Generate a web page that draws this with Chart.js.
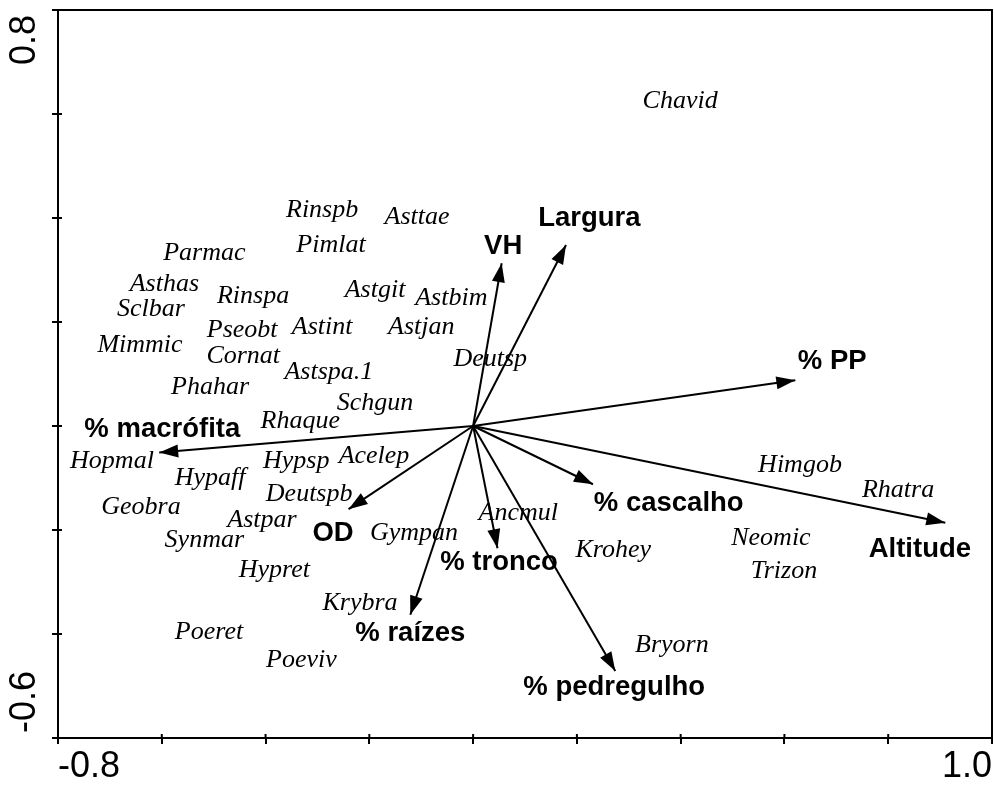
<!DOCTYPE html>
<html>
<head>
<meta charset="utf-8">
<script src="https://cdn.jsdelivr.net/npm/chart.js@4"></script>
<style>
  html, body { margin: 0; padding: 0; background: #fff; }
  #wrap { width: 994px; height: 787px; }
</style>
</head>
<body>
<div id="wrap"><canvas id="biplot"></canvas></div>
<script>
// Species scores (labels only, no markers)
const species = ['Chavid', 'Rinspb', 'Asttae', 'Parmac', 'Pimlat', 'Asthas', 'Sclbar', 'Rinspa',
  'Astgit', 'Astbim', 'Pseobt', 'Astint', 'Astjan', 'Mimmic', 'Cornat', 'Deutsp', 'Astspa.1',
  'Phahar', 'Schgun', 'Rhaque', 'Hopmal', 'Hypsp', 'Acelep', 'Hypaff', 'Deutspb', 'Geobra',
  'Himgob', 'Rhatra', 'Astpar', 'Ancmul', 'Synmar', 'Gympan', 'Neomic', 'Krohey', 'Trizon',
  'Hypret', 'Krybra', 'Poeret', 'Bryorn', 'Poeviv'];
const speciesX = [0.399, -0.291, -0.108, -0.518, -0.274, -0.595, -0.621, -0.424,
  -0.189, -0.042, -0.445, -0.291, -0.100, -0.642, -0.443, 0.033, -0.278,
  -0.507, -0.189, -0.333, -0.696, -0.341, -0.191, -0.507, -0.316, -0.640,
  0.630, 0.819, -0.407, 0.087, -0.518, -0.114, 0.574, 0.270, 0.599,
  -0.383, -0.218, -0.509, 0.383, -0.331];
const speciesY = [0.625, 0.415, 0.402, 0.333, 0.348, 0.273, 0.225, 0.250,
  0.262, 0.246, 0.185, 0.190, 0.190, 0.156, 0.135, 0.129, 0.104,
  0.075, 0.044, 0.010, -0.067, -0.067, -0.058, -0.100, -0.131, -0.156,
  -0.075, -0.123, -0.181, -0.167, -0.219, -0.206, -0.215, -0.238, -0.279,
  -0.277, -0.340, -0.396, -0.421, -0.450];

// Environmental variables (arrows from origin)
const envVars = ['VH', 'Largura', '% PP', 'Altitude', '% cascalho', '% tronco',
  '% pedregulho', '% raízes', 'OD', '% macrófita'];
const envX = [0.055, 0.179, 0.621, 0.910, 0.231, 0.047, 0.274, -0.121, -0.240, -0.605];
const envY = [0.313, 0.348, 0.088, -0.186, -0.112, -0.235, -0.471, -0.363, -0.160, -0.051];
const envLabelX = [0.058, 0.224, 0.692, 0.861, 0.377, 0.050, 0.272, -0.121, -0.270, -0.599];
const envLabelY = [0.346, 0.400, 0.125, -0.237, -0.148, -0.263, -0.503, -0.398, -0.206, -0.006];

// Axis range and the two labelled ticks
const xRange = [-0.8, 1.0];
const yRange = [-0.6, 0.8];
const xTickLabels = ['-0.8', '1.0'];
const yTickLabels = ['-0.6', '0.8'];

const datasets = [{
  label: 'species',
  data: species.map((s, i) => ({ x: speciesX[i], y: speciesY[i] })),
  pointRadius: 0,
  showLine: false
}];
envVars.forEach((v, i) => {
  datasets.push({
    label: v,
    type: 'line',
    data: [{ x: 0, y: 0 }, { x: envX[i], y: envY[i] }],
    borderColor: '#000',
    borderWidth: 2,
    pointRadius: 0,
    fill: false
  });
});

// Frame, arrowheads, text labels
const biplotPlugin = {
  id: 'biplot',
  afterDatasetsDraw(chart) {
    const { ctx, chartArea: a, scales } = chart;
    const xs = scales.x, ys = scales.y;
    ctx.save();
    // top + right edges of the frame
    ctx.strokeStyle = '#000';
    ctx.lineWidth = 2;
    ctx.beginPath();
    ctx.moveTo(a.left, a.top);
    ctx.lineTo(a.right, a.top);
    ctx.lineTo(a.right, a.bottom);
    ctx.stroke();

    // inner part of the tick marks (they cross the axis line)
    ctx.lineWidth = 2;
    ctx.beginPath();
    xs.ticks.forEach(t => {
      const px = xs.getPixelForValue(t.value);
      ctx.moveTo(px, a.bottom);
      ctx.lineTo(px, a.bottom - 4);
    });
    ys.ticks.forEach(t => {
      const py = ys.getPixelForValue(t.value);
      ctx.moveTo(a.left, py);
      ctx.lineTo(a.left + 4, py);
    });
    ctx.stroke();

    // arrowheads
    ctx.fillStyle = '#000';
    envVars.forEach((v, i) => {
      const meta = chart.getDatasetMeta(i + 1);
      const p0 = meta.data[0], p1 = meta.data[1];
      const ang = Math.atan2(p1.y - p0.y, p1.x - p0.x);
      const len = 19, hw = 6.5;
      ctx.beginPath();
      ctx.moveTo(p1.x, p1.y);
      ctx.lineTo(p1.x - len * Math.cos(ang) + hw * Math.sin(ang), p1.y - len * Math.sin(ang) - hw * Math.cos(ang));
      ctx.lineTo(p1.x - len * Math.cos(ang) - hw * Math.sin(ang), p1.y - len * Math.sin(ang) + hw * Math.cos(ang));
      ctx.closePath();
      ctx.fill();
    });

    // species names
    ctx.textAlign = 'center';
    ctx.textBaseline = 'middle';
    ctx.font = 'italic 26px "Liberation Serif", "Times New Roman", serif';
    const meta0 = chart.getDatasetMeta(0);
    species.forEach((s, i) => {
      const pt = meta0.data[i];
      ctx.fillText(s, pt.x, pt.y);
    });

    // variable names
    ctx.font = 'bold 27.5px "Liberation Sans", Arial, sans-serif';
    envVars.forEach((v, i) => {
      ctx.fillText(v, xs.getPixelForValue(envLabelX[i]), ys.getPixelForValue(envLabelY[i]));
    });

    // axis end labels
    ctx.font = '36px "Liberation Sans", Arial, sans-serif';
    ctx.textAlign = 'left';
    ctx.fillText(xTickLabels[0], xs.getPixelForValue(xRange[0]), 767);
    ctx.textAlign = 'right';
    ctx.fillText(xTickLabels[1], xs.getPixelForValue(xRange[1]), 767);

    ctx.translate(25, 0);
    ctx.rotate(-Math.PI / 2);
    ctx.textAlign = 'left';
    ctx.fillText(yTickLabels[0], -(ys.getPixelForValue(yRange[0]) - 5), 0);
    ctx.textAlign = 'right';
    ctx.fillText(yTickLabels[1], -(ys.getPixelForValue(yRange[1]) + 5), 0);
    ctx.restore();
  }
};

new Chart(document.getElementById('biplot'), {
  type: 'scatter',
  data: { datasets: datasets },
  options: {
    responsive: true,
    maintainAspectRatio: false,
    animation: false,
    layout: { padding: { top: 10, right: 2, left: 0, bottom: 0 } },
    plugins: {
      legend: { display: false },
      tooltip: { enabled: false }
    },
    scales: {
      x: {
        type: 'linear',
        min: xRange[0],
        max: xRange[1],
        ticks: { stepSize: 0.2, display: false },
        grid: { drawOnChartArea: false, drawTicks: true, tickLength: 6, color: '#000', lineWidth: 2 },
        border: { color: '#000', width: 2 },
        afterFit(scale) { scale.height = 49; }
      },
      y: {
        type: 'linear',
        min: yRange[0],
        max: yRange[1],
        ticks: { stepSize: 0.2, display: false },
        grid: { drawOnChartArea: false, drawTicks: true, tickLength: 6, color: '#000', lineWidth: 2 },
        border: { color: '#000', width: 2 },
        afterFit(scale) { scale.width = 58; }
      }
    }
  },
  plugins: [biplotPlugin]
});
</script>
</body>
</html>
